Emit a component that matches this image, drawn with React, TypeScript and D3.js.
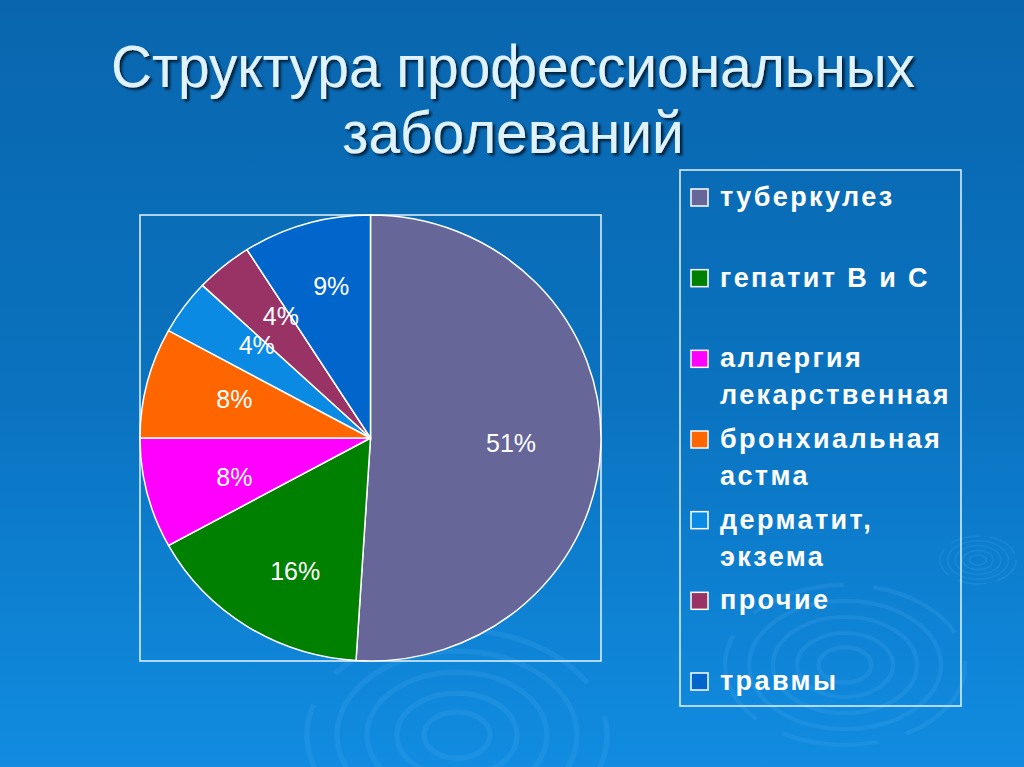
import { useMemo } from "react";
import * as d3 from "d3";

const WIDTH = 1024;
const HEIGHT = 767;

// chart data
const categories = [
  "туберкулез",
  "гепатит В и С",
  "аллергия лекарственная",
  "бронхиальная астма",
  "дерматит, экзема",
  "прочие",
  "травмы",
];
const shares = [51, 16, 8, 8, 4, 4, 9];
const legendLines = [
  ["туберкулез"],
  ["гепатит В и С"],
  ["аллергия", "лекарственная"],
  ["бронхиальная", "астма"],
  ["дерматит,", "экзема"],
  ["прочие"],
  ["травмы"],
];
const colors = ["#666699", "#008000", "#ff00ff", "#ff6600", "#0a8ae2", "#993366", "#0066cc"];
const titleLines = ["Структура профессиональных", "заболеваний"];

// layout
const PIE_BOX = { x0: 140, y0: 215, x1: 601, y1: 661 };
const LEGEND_BOX = { x0: 680, y0: 170, x1: 961, y1: 706 };
const FRAME = "#e6f4ff";

const ripples = [
  { cx: 457, cy: 735, rx: 150, ry: 105 },
  { cx: 845, cy: 665, rx: 120, ry: 80 },
  { cx: 978, cy: 560, rx: 38, ry: 24 },
];

export default function App() {
  const cx = (PIE_BOX.x0 + PIE_BOX.x1) / 2;
  const cy = (PIE_BOX.y0 + PIE_BOX.y1) / 2;
  const rx = (PIE_BOX.x1 - PIE_BOX.x0) / 2;
  const ry = (PIE_BOX.y1 - PIE_BOX.y0) / 2;
  const squash = ry / rx;

  const slices = useMemo(
    () =>
      d3
        .pie<number>()
        .sort(null)
        .value((d) => d)(shares),
    []
  );

  const arc = d3.arc<d3.PieArcDatum<number>>().innerRadius(0).outerRadius(rx);
  const labelArc = d3
    .arc<d3.PieArcDatum<number>>()
    .innerRadius(rx * 0.61)
    .outerRadius(rx * 0.61);

  const legendY = d3
    .scalePoint<string>()
    .domain(categories)
    .range([206, 690]);

  return (
    <svg
      width={WIDTH}
      height={HEIGHT}
      style={{ position: "absolute", left: 0, top: 0, display: "block" }}
    >
      <defs>
        <linearGradient id="bg" x1="0" y1="0" x2="0" y2="1">
          <stop offset="0" stopColor="#0966ae" />
          <stop offset="0.5" stopColor="#0a72bf" />
          <stop offset="1" stopColor="#118ce0" />
        </linearGradient>
        <filter id="shadow" x="-5%" y="-20%" width="110%" height="150%">
          <feDropShadow dx="2.6" dy="2.4" stdDeviation="1.2" floodColor="#061c33" floodOpacity="0.95" />
        </filter>
      </defs>
      <rect width={WIDTH} height={HEIGHT} fill="url(#bg)" />

      {ripples.map((r, i) => (
        <g key={i} fill="none" stroke="#46a8f0" opacity={0.22}>
          {[1, 0.8, 0.6, 0.4, 0.22].map((k) => (
            <ellipse
              key={k}
              cx={r.cx}
              cy={r.cy}
              rx={r.rx * k}
              ry={r.ry * k}
              strokeWidth={Math.max(1.5, r.rx * 0.035)}
              strokeDasharray={k === 1 ? `${r.rx * 0.8} ${r.rx * 0.25}` : undefined}
            />
          ))}
        </g>
      ))}

      {/* title */}
      <g
        fontFamily="'Liberation Sans', Arial, sans-serif"
        fontSize={60}
        textAnchor="middle"
        transform="translate(513,0) scale(0.947,1)"
        fill="#dff2ff"
        filter="url(#shadow)"
      >
        {titleLines.map((t, i) => (
          <text key={i} x={0} y={87 + i * 66}>
            {t}
          </text>
        ))}
      </g>

      {/* pie */}
      <rect
        x={PIE_BOX.x0}
        y={PIE_BOX.y0}
        width={PIE_BOX.x1 - PIE_BOX.x0}
        height={PIE_BOX.y1 - PIE_BOX.y0}
        fill="none"
        stroke={FRAME}
        strokeWidth={1.5}
      />
      <g transform={`translate(${cx},${cy}) scale(1,${squash})`}>
        {slices.map((s, i) => (
          <path
            key={i}
            d={arc(s) ?? ""}
            fill={colors[i]}
            stroke="#ffffff"
            strokeWidth={1.5}
            vectorEffect="non-scaling-stroke"
          />
        ))}
      </g>
      <g
        fontFamily="'Liberation Sans', Arial, sans-serif"
        fontSize={25}
        fill="#ffffff"
        textAnchor="middle"
      >
        {slices.map((s, i) => {
          const [lx, ly] = labelArc.centroid(s);
          // labels sit a little further out vertically than horizontally
          return (
            <text key={i} x={cx + lx} y={cy + ly * squash * 1.16} dy="0.36em">
              {`${shares[i]}%`}
            </text>
          );
        })}
      </g>

      {/* legend */}
      <rect
        x={LEGEND_BOX.x0}
        y={LEGEND_BOX.y0}
        width={LEGEND_BOX.x1 - LEGEND_BOX.x0}
        height={LEGEND_BOX.y1 - LEGEND_BOX.y0}
        fill="none"
        stroke={FRAME}
        strokeWidth={1.5}
      />
      <g
        fontFamily="'Liberation Sans', Arial, sans-serif"
        fontSize={27}
        fontWeight="bold"
        fill="#ffffff"
        letterSpacing={2.4}
      >
        {categories.map((c, i) => {
          const y = legendY(c) ?? 0;
          return (
            <g key={c}>
              <rect
                x={691}
                y={y - 17}
                width={17}
                height={17}
                fill={colors[i]}
                stroke="#ffffff"
                strokeWidth={1.5}
              />
              {legendLines[i].map((line, j) => (
                <text key={j} x={720} y={y + j * 37}>
                  {line}
                </text>
              ))}
            </g>
          );
        })}
      </g>
    </svg>
  );
}
